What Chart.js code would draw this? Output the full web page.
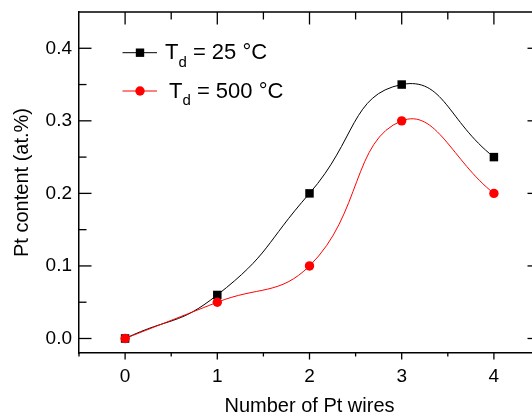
<!DOCTYPE html>
<html>
<head>
<meta charset="utf-8">
<script src="https://cdn.jsdelivr.net/npm/chart.js@4"></script>
<style>
  html, body { margin: 0; padding: 0; overflow: hidden; background: #fff; }
  #wrap { width: 532px; height: 415px; overflow: hidden; }
</style>
</head>
<body>
<div id="wrap"><canvas id="ptChart" width="548" height="420"></canvas></div>
<script>
const wires = [0, 1, 2, 3, 4];
const ptContent25 = [0, 0.06, 0.2, 0.35, 0.25];
const ptContent500 = [0, 0.05, 0.1, 0.3, 0.2];
const xTicks = [0, 1, 2, 3, 4];
const yTicks = [0, 0.1, 0.2, 0.3, 0.4];
const legendTemps = ["25", "500"];

const FONT = "'Liberation Sans', Arial, sans-serif";

const toPoints = (ys) => wires.map((x, i) => ({ x: x, y: ys[i] }));

// inward / outward tick marks on all four sides, plus the top and right frame
const frameTicks = {
    id: "frameTicks",
    afterDraw(chart) {
        const { ctx, chartArea: a, scales } = chart;
        const xs = scales.x, ys = scales.y;
        ctx.save();
        ctx.strokeStyle = "#000";
        ctx.lineWidth = 1.5;
        ctx.beginPath();
        ctx.moveTo(a.left, a.top);
        ctx.lineTo(a.right, a.top);
        ctx.lineTo(a.right, a.bottom);
        ctx.stroke();

        ctx.lineWidth = 1.3;
        const tick = (x1, y1, x2, y2) => { ctx.beginPath(); ctx.moveTo(x1, y1); ctx.lineTo(x2, y2); ctx.stroke(); };
        xTicks.forEach(v => {
            const px = xs.getPixelForValue(v);
            tick(px, a.top, px, a.top + 12.5);
            tick(px, a.bottom, px, a.bottom + 6.5);
            const pm = xs.getPixelForValue(v + 0.5);
            tick(pm, a.top, pm, a.top + 7.5);
            tick(pm, a.bottom, pm, a.bottom + 3.5);
        });
        const pm0 = xs.getPixelForValue(xTicks[0] - 0.5);
        tick(pm0, a.bottom, pm0, a.bottom + 3.5);
        yTicks.forEach(v => {
            const py = ys.getPixelForValue(v);
            tick(a.left, py, a.left + 12.5, py);
            tick(a.right, py, a.right - 12.5, py);
            if (v + 0.05 < ys.max) {
                const pm = ys.getPixelForValue(v + 0.05);
                tick(a.left, pm, a.left + 7.5, pm);
                tick(a.right, pm, a.right - 7.5, pm);
            }
        });
        ctx.restore();
    }
};

// legend with subscript "d"
const subLegend = {
    id: "subLegend",
    afterDraw(chart) {
        const ctx = chart.ctx;
        const rows = [
            { y: 52.7, tx: 165, color: "#000", style: "rect", temp: legendTemps[0] },
            { y: 91, tx: 169, color: "#ff0000", style: "circle", temp: legendTemps[1] }
        ];
        ctx.save();
        rows.forEach(r => {
            ctx.strokeStyle = r.color;
            ctx.fillStyle = r.color;
            ctx.lineWidth = 1;
            ctx.beginPath();
            ctx.moveTo(122.5, r.y);
            ctx.lineTo(157, r.y);
            ctx.stroke();
            if (r.style === "rect") {
                ctx.fillRect(140 - 4.2, r.y - 4.2, 8.4, 8.4);
            } else {
                ctx.beginPath();
                ctx.arc(140, r.y, 4.7, 0, Math.PI * 2);
                ctx.fill();
            }
            ctx.fillStyle = "#000";
            ctx.textBaseline = "alphabetic";
            ctx.textAlign = "left";
            const base = r.y + 6.6;
            let x = r.tx;
            ctx.font = "22px " + FONT;
            ctx.fillText("T", x, base);
            x += ctx.measureText("T").width;
            ctx.font = "15px " + FONT;
            ctx.fillText("d", x, base + 7.4);
            x += ctx.measureText("d").width;
            ctx.font = "22px " + FONT;
            ctx.fillText(" = " + r.temp + " °C", x, base);
        });
        ctx.restore();
    }
};

const data = {
    datasets: [
        {
            label: "Td = 25 °C",
            data: toPoints(ptContent25),
            borderColor: "#000000",
            backgroundColor: "#000000",
            borderWidth: 1,
            pointStyle: "rect",
            pointRadius: 6,
            pointBorderWidth: 0,
            tension: 0.5,
            order: 1,
        },
        {
            label: "Td = 500 °C",
            data: toPoints(ptContent500),
            borderColor: "#ff0000",
            backgroundColor: "#ff0000",
            borderWidth: 1,
            pointStyle: "circle",
            pointRadius: 4.7,
            pointBorderWidth: 0,
            tension: 0.45,
            order: 0,
        },
    ],
};

const config = {
    type: "line",
    data: data,
    options: {
        responsive: false,
        animation: false,
        devicePixelRatio: 1,
        layout: { padding: { top: 12, right: 8, left: 0, bottom: 0 } },
        plugins: {
            legend: { display: false },
            tooltip: { enabled: false },
        },
        scales: {
            x: {
                type: "linear",
                position: "bottom",
                min: -0.5,
                max: 4.5,
                afterBuildTicks: (s) => { s.ticks = xTicks.map(v => ({ value: v })); },
                afterFit: (s) => { s.height = 67; s.paddingLeft = 0; s.paddingRight = 0; },
                grid: { display: false, drawTicks: false },
                border: { display: true, color: "#000", width: 1.5 },
                ticks: {
                    padding: 12,
                    color: "#000",
                    font: { family: FONT, size: 19 },
                    maxRotation: 0,
                },
                title: {
                    display: true,
                    text: "Number of Pt wires",
                    color: "#000",
                    font: { family: FONT, size: 20 },
                    padding: { top: 0, bottom: 1.5 },
                },
            },
            y: {
                type: "linear",
                min: -0.02,
                max: 0.45,
                afterBuildTicks: (s) => { s.ticks = yTicks.map(v => ({ value: v })); },
                afterFit: (s) => { s.width = 79; s.paddingTop = 0; s.paddingBottom = 0; },
                grid: { display: false, drawTicks: false },
                border: { display: true, color: "#000", width: 1.5 },
                ticks: {
                    padding: 7,
                    color: "#000",
                    font: { family: FONT, size: 19 },
                    callback: (v) => v.toFixed(1),
                },
                title: {
                    display: true,
                    text: "Pt content (at.%)",
                    color: "#000",
                    font: { family: FONT, size: 20 },
                    padding: { top: 10, bottom: 0 },
                },
            },
        },
    },
    plugins: [frameTicks, subLegend],
};

new Chart(document.getElementById("ptChart"), config);
</script>
</body>
</html>
